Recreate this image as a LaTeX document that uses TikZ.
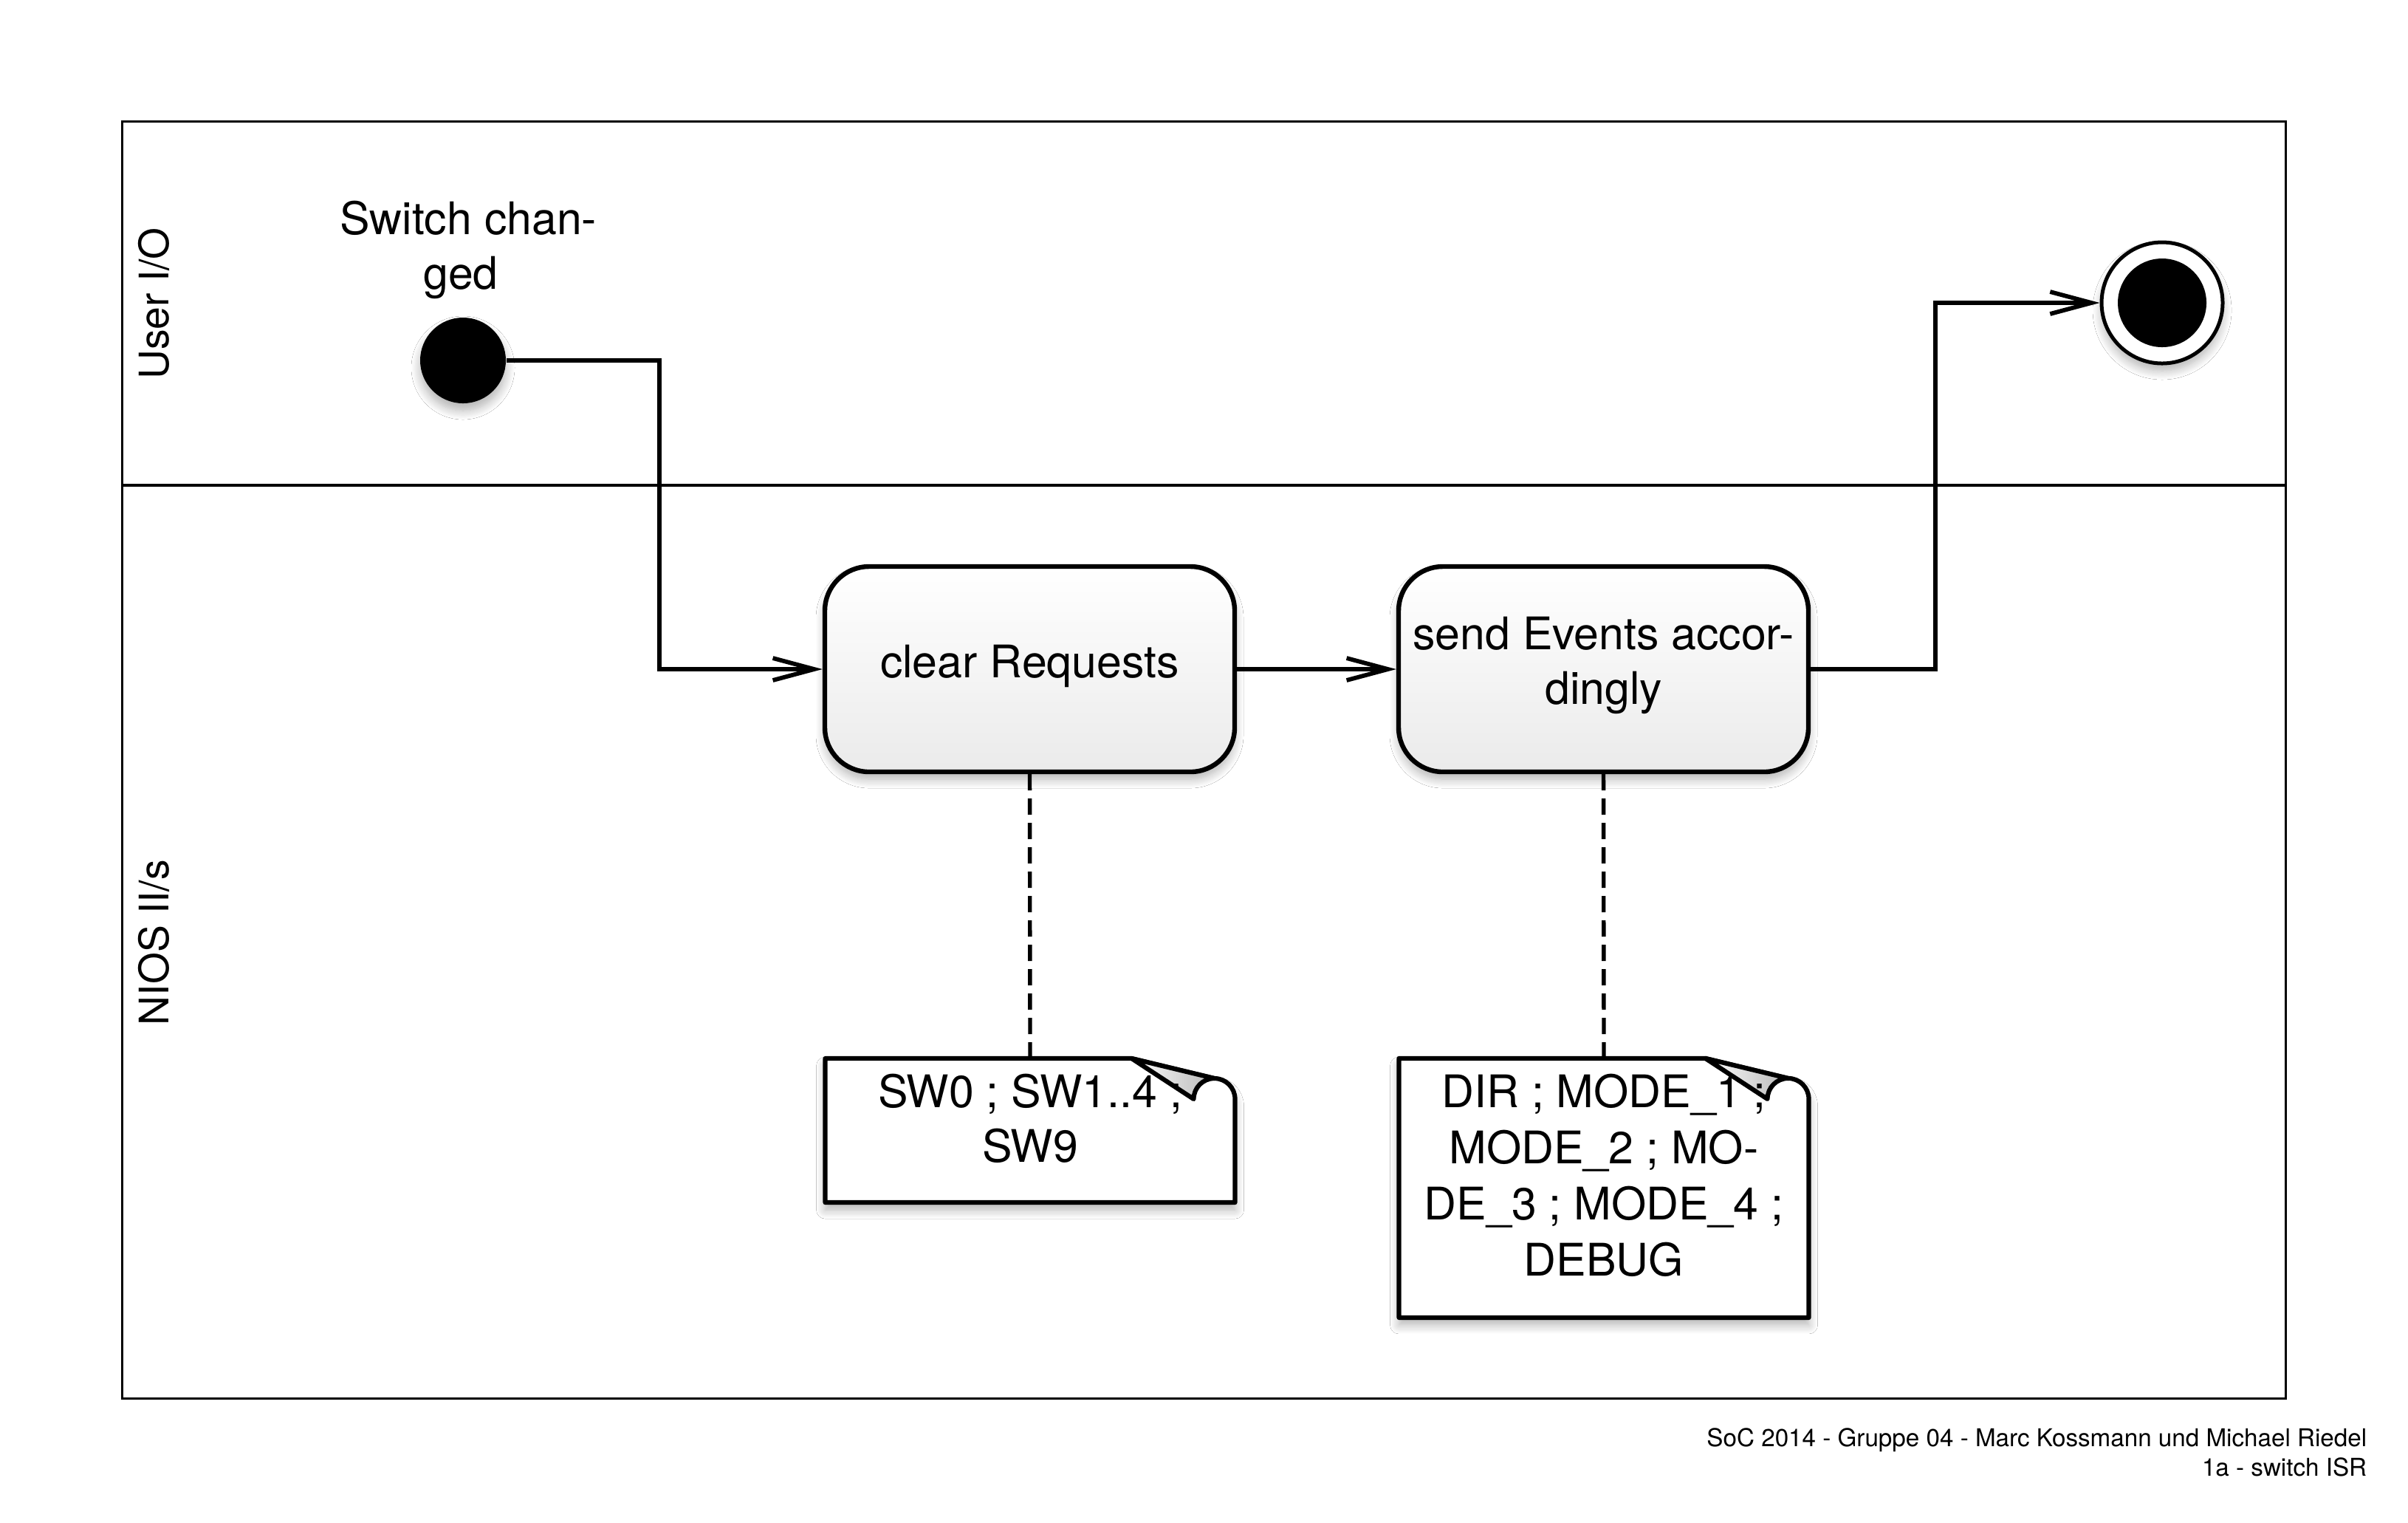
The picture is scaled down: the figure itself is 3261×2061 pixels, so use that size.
\documentclass[tikz,border=0pt]{standalone}
\usepackage{fontspec}
\setmainfont{TeX Gyre Heros}
\usetikzlibrary{arrows.meta,calc,shadows.blur}
\newcommand\mlbl[2][c]{\begin{tabular}[t]{@{}#1@{}}#2\end{tabular}}
\newcommand\notedraw[1]{%
  \path[noteline] (#1.north west) -- ($(#1.north east)+(-140,0)$) -- ($(#1.north east)+(-28,27)$)
     arc[start angle=-90,end angle=0,radius=28] -- (#1.south east) -- (#1.south west) -- cycle;
  \shadedraw[flap] ($(#1.north east)+(-140,0)$) -- ($(#1.north east)+(-56,55)$)
     arc[start angle=180,end angle=270,radius=28] -- cycle;}
\tikzset{
  frame/.style={draw=black, line width=0.8pt},
  softshadow/.style={blur shadow={shadow xshift=0pt, shadow yshift=-2.5pt, shadow blur radius=3pt, shadow blur steps=12, shadow opacity=30}},
  conn/.style={line width=1.45pt, -{Straight Barb[length=14pt,width=7.5pt]}},
  activity/.style={draw=black, line width=1.6pt, rounded corners=15pt, minimum width=138.75pt,
     minimum height=69.5pt, top color=white, bottom color=black!8, softshadow, inner sep=0pt},
  startst/.style={circle, fill=black, minimum size=29pt, inner sep=0pt, softshadow},
  endst/.style={circle, draw=black, fill=white, line width=1.25pt, minimum size=41pt, inner sep=0pt, softshadow},
  enddot/.style={circle, fill=black, minimum size=30pt, inner sep=0pt},
  notebox/.style={rectangle, minimum width=138.75pt, inner sep=0pt, outer sep=0pt},
  noteline/.style={draw=black, fill=white, line width=1.55pt, line join=round, softshadow},
  flap/.style={draw=black, line width=1.55pt, line join=round, left color=white, right color=black!28},
  notelink/.style={line width=1.35pt, dash pattern=on 5.5pt off 2.75pt},
  txt/.style={font=\fontsize{15.2}{18.5}\selectfont, inner sep=0pt, anchor=base},
  lane/.style={font=\fontsize{13.8}{16}\selectfont, inner sep=0pt, anchor=base, rotate=90},
  foot/.style={font=\fontsize{8.3}{10}\selectfont, inner sep=0pt, anchor=base east}
}
\begin{document}
\begin{tikzpicture}[x=0.25pt, y=-0.25pt]
\fill[white] (0,0) rectangle (3261,2061);
\useasboundingbox (0,0) rectangle (3261,2061);
% swimlane frame
\draw[frame] (165.5,164.8) rectangle (3095.4,1893.5);
\draw[frame] (165.5,657) -- (3095.4,657);
\node[lane] (lane1) at (228,411) {User I/O};
\node[lane] (lane2) at (228,1276) {NIOS II/s};
% start / end
\node[startst] (s) at (627,488) {};
\node[txt] (slbl) at (624,317) {\mlbl{Switch chan\rlap{-}\\ged}};
\node[endst] (e) at (2928,410) {};
\node[enddot] (ed) at (e.center) {};
% activities
\node[activity] (b1) at (1394.5,906) {};
\node[activity] (b2) at (2171.5,906) {};
\node[txt] (t1) at (1394.5,917) {clear Requests};
\node[txt] (t2) at (2171.5,879) {\mlbl{send Events accor-\\dingly}};
% notes
\node[notebox, minimum height=48.75pt] (n1) at (1395,1530.5) {};
\node[notebox, minimum height=87.75pt] (n2) at (2172,1608.4) {};
\notedraw{n1}
\notedraw{n2}
\node[txt] (nt1) at (1395,1499) {\mlbl{SW0 ; SW1..4 ;\\SW9}};
\node[txt, font=\fontsize{15.2}{19}\selectfont] (nt2) at (2172,1499) {\mlbl{DIR ; MODE\_1 ;\\MODE\_2 ; MO-\\DE\_3 ; MODE\_4 ;\\DEBUG}};
% connectors
\coordinate (k1) at (893,0);
\coordinate (k2) at (2621,0);
\draw[conn] (s.east) -| (k1 |- b1.west) -- (b1.west);
\draw[conn] (b1.east) -- (b2.west);
\draw[conn] (b2.east) -| (k2 |- e.west) -- (e.west);
\draw[notelink] (b1.south) -- (n1.north);
\draw[notelink] (b2.south) -- (n2.north);
% footer
\node[foot] (ft) at (3206,1958) {\mlbl[r]{SoC 2014 - Gruppe 04 - Marc Kossmann und Michael Riedel\\1a - switch ISR}};
\end{tikzpicture}
\end{document}
